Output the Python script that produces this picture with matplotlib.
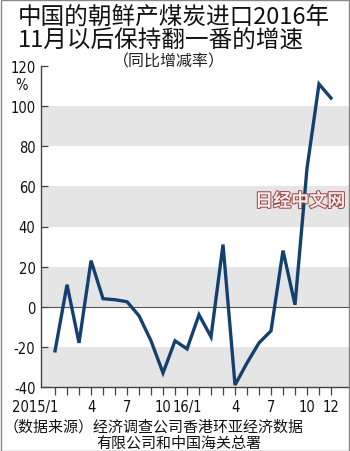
import matplotlib
matplotlib.use("Agg")
import matplotlib.pyplot as plt
import matplotlib.transforms as mtransforms
import matplotlib.patheffects as pe
from matplotlib.patches import Rectangle
from matplotlib import font_manager
from matplotlib.font_manager import FontProperties

# ---- data ----
months = list(range(24))  # 2015/1 .. 2016/12
values_2015 = [-22, 11, -18, 23, 4, 3.5, 2.5, -4.5, -17, -33, -17, -21]
values_2016 = [-4, -15, 31, -39, -28, -18, -12, 28, 1, 69, 111, 104]
values = values_2015 + values_2016
xtick_labels = ["2015/1", "", "", "4", "", "", "7", "", "", "10", "", "",
                "16/1", "", "", "4", "", "", "7", "", "", "10", "", "12"]
yticks = [-40, -20, 0, 20, 40, 60, 80, 100, 120]
bands = [(-40, -20), (0, 20), (40, 60), (80, 100)]
title_lines = ["中国的朝鲜产煤炭进口2016年", "11月以后保持翻一番的增速"]
subtitle = "（同比增减率）"
source_lines = ["（数据来源）经济调查公司香港环亚经济数据", "有限公司和中国海关总署"]
watermark = "日经中文网"

# pick a condensed font for numbers if one is installed
narrow_path = None
narrow_kind = None
for f in font_manager.fontManager.ttflist:
    fn = f.fname.lower()
    if "narrow" in fn and "liberation" in fn and "bold" not in fn and "italic" not in fn:
        narrow_path, narrow_kind = f.fname, "narrow"
        break
if narrow_path is None:
    for f in font_manager.fontManager.ttflist:
        fn = f.fname.lower()
        if "condensed" in fn and "bold" not in fn and "oblique" not in fn and "italic" not in fn \
                and "mono" not in fn and "serif" not in fn.replace("sans", ""):
            narrow_path, narrow_kind = f.fname, "condensed"
            break
if narrow_kind == "narrow":
    num_fp = FontProperties(fname=narrow_path, size=12.5)
elif narrow_kind == "condensed":
    num_fp = FontProperties(fname=narrow_path, size=10.5)
else:
    num_fp = FontProperties(family="Liberation Sans", size=10.5)

cjk = "Noto Sans CJK SC"
plt.rcParams["font.family"] = ["Liberation Sans", cjk, "DejaVu Sans"]

W, H = 350, 452
fig = plt.figure(figsize=(W / 100, H / 100), dpi=100)

def fx(px):
    return px / W

def fy(py):
    return 1 - py / H

ax = fig.add_axes([fx(41), fy(388), fx(349) - fx(41), fy(67) - fy(388)])

for lo, hi in bands:
    ax.axhspan(lo, hi, color="#e5e5e5", lw=0, zorder=0)
ax.axhline(0, color="#555555", lw=0.8, zorder=1)

ax.plot(months, values, color="#124170", lw=2.4, solid_joinstyle="miter", zorder=3)

ax.set_xlim(-1.17, 24.5)
ax.set_ylim(-40, 120)
ax.set_yticks(yticks)
ax.set_yticklabels([str(v) for v in yticks])
ax.set_xticks(months)
ax.set_xticklabels(xtick_labels)

for s in ["top", "right"]:
    ax.spines[s].set_visible(False)
for s in ["left", "bottom"]:
    ax.spines[s].set_color("#444444")
    ax.spines[s].set_linewidth(1.0)

ax.tick_params(axis="y", direction="in", length=5, width=0.9, color="#444444",
               pad=4, labelcolor="#111111")
ax.tick_params(axis="x", direction="out", length=6, width=0.9, color="#444444",
               pad=2.5, labelcolor="#111111")

for lab in ax.get_yticklabels() + ax.get_xticklabels():
    lab.set_fontproperties(num_fp)

# right-align labels like "2015/1" so the final digit sits on the tick
for lab in ax.get_xticklabels():
    if "/" in lab.get_text():
        lab.set_ha("right")
        lab.set_transform(lab.get_transform() +
                          mtransforms.ScaledTranslation(3.5 / 100, 0, fig.dpi_scale_trans))

# title / subtitle
fig.text(fx(18), fy(17), title_lines[0], fontsize=17, family=[cjk], va="center", ha="left", color="#111111")
fig.text(fx(18), fy(41), title_lines[1], fontsize=17, family=[cjk], va="center", ha="left", color="#111111")
fig.text(fx(113), fy(62), subtitle, fontsize=11.5, family=[cjk], va="center", ha="left", color="#222222")
fig.text(fx(22), fy(86), "%", fontproperties=num_fp, va="center", ha="center", color="#111111")

# source
fig.text(fx(4), fy(427.5), source_lines[0], fontsize=10.8, family=[cjk], va="center", ha="left", color="#111111")
fig.text(fx(96), fy(443.5), source_lines[1], fontsize=10.8, family=[cjk], va="center", ha="left", color="#111111")

# watermark
fig.text(fx(300), fy(202), watermark, fontsize=13, family=[cjk], weight="bold",
         va="center", ha="center", color="#f7ecec",
         path_effects=[pe.withStroke(linewidth=1.4, foreground="#9a4545")], zorder=5)

# figure border
fig.patches.append(Rectangle((0.5 / W, 0.5 / H), 1 - 1.5 / W, 1 - 1.5 / H,
                             transform=fig.transFigure, fill=False,
                             edgecolor="#888888", lw=1.0))

fig.savefig("out.png", dpi=100)
